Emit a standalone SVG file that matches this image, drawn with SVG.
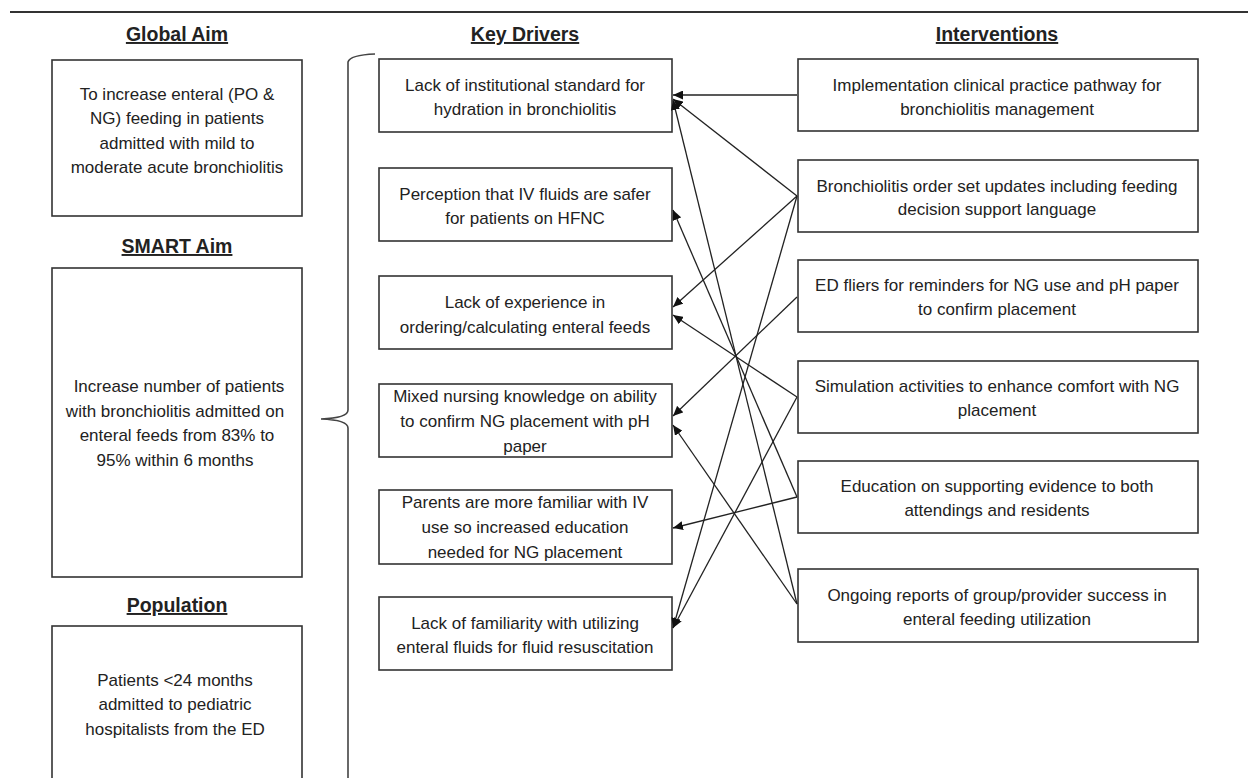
<svg xmlns="http://www.w3.org/2000/svg" width="1248" height="778" viewBox="0 0 1248 778">
<style>
text{font-family:"Liberation Sans",Arial,sans-serif;fill:#222}
.h{font-size:19.5px;font-weight:bold;text-anchor:middle;text-decoration:underline}
.t{font-size:17px;text-anchor:middle}
.box{fill:#fff;stroke:#333;stroke-width:1.6}
.c{stroke:#222;stroke-width:1.3;fill:none;marker-end:url(#ah)}
</style>
<defs>
<marker id="ah" markerUnits="userSpaceOnUse" markerWidth="11" markerHeight="9" refX="10" refY="4.5" orient="auto">
<path d="M0,0 L10,4.5 L0,9 z" fill="#111"/>
</marker>
</defs>
<rect width="1248" height="778" fill="#fff"/>
<line x1="10" y1="12" x2="1248" y2="12" stroke="#333" stroke-width="2"/>
<text class="h" x="177" y="41">Global Aim</text>
<text class="h" x="525" y="41">Key Drivers</text>
<text class="h" x="997" y="41">Interventions</text>
<text class="h" x="177" y="253">SMART Aim</text>
<text class="h" x="177" y="612">Population</text>
<path d="M375,54 Q350,55 348,62 L348,410 Q348,418 321,419 Q348,420 348,428 L348,790" fill="none" stroke="#444" stroke-width="1.6"/>
<g id="global-aim">
<rect class="box" x="52" y="60" width="250" height="156"/>
<text class="t" x="177" y="100">To increase enteral (PO &amp;</text>
<text class="t" x="177" y="124">NG) feeding in patients</text>
<text class="t" x="177" y="149">admitted with mild to</text>
<text class="t" x="177" y="173">moderate acute bronchiolitis</text>
</g>
<g id="smart-aim">
<rect class="box" x="52" y="268" width="250" height="309"/>
<text class="t" x="179" y="392">Increase number of patients</text>
<text class="t" x="175" y="417">with bronchiolitis admitted on</text>
<text class="t" x="177" y="441">enteral feeds from 83% to</text>
<text class="t" x="175" y="466">95% within 6 months</text>
</g>
<g id="population">
<rect class="box" x="52" y="626" width="250" height="200"/>
<text class="t" x="175" y="686">Patients &lt;24 months</text>
<text class="t" x="175" y="710">admitted to pediatric</text>
<text class="t" x="175" y="735">hospitalists from the ED</text>
</g>
<g id="d1">
<rect class="box" x="379" y="59" width="293" height="73"/>
<text class="t" x="525" y="91">Lack of institutional standard for</text>
<text class="t" x="525" y="115">hydration in bronchiolitis</text>
</g>
<g id="d2">
<rect class="box" x="379" y="168" width="293" height="73"/>
<text class="t" x="525" y="200">Perception that IV fluids are safer</text>
<text class="t" x="525" y="224">for patients on HFNC</text>
</g>
<g id="d3">
<rect class="box" x="379" y="276" width="293" height="73"/>
<text class="t" x="525" y="308">Lack of experience in</text>
<text class="t" x="525" y="333">ordering/calculating enteral feeds</text>
</g>
<g id="d4">
<rect class="box" x="379" y="384" width="293" height="73"/>
<text class="t" x="525" y="402">Mixed nursing knowledge on ability</text>
<text class="t" x="525" y="427">to confirm NG placement with pH</text>
<text class="t" x="525" y="452">paper</text>
</g>
<g id="d5">
<rect class="box" x="379" y="490" width="293" height="74"/>
<text class="t" x="525" y="508">Parents are more familiar with IV</text>
<text class="t" x="525" y="533">use so increased education</text>
<text class="t" x="525" y="558">needed for NG placement</text>
</g>
<g id="d6">
<rect class="box" x="379" y="597" width="293" height="73"/>
<text class="t" x="525" y="629">Lack of familiarity with utilizing</text>
<text class="t" x="525" y="653">enteral fluids for fluid resuscitation</text>
</g>
<g id="i1">
<rect class="box" x="798" y="59" width="400" height="72"/>
<text class="t" x="997" y="91">Implementation clinical practice pathway for</text>
<text class="t" x="997" y="115">bronchiolitis management</text>
</g>
<g id="i2">
<rect class="box" x="798" y="160" width="400" height="72"/>
<text class="t" x="997" y="192">Bronchiolitis order set updates including feeding</text>
<text class="t" x="997" y="215">decision support language</text>
</g>
<g id="i3">
<rect class="box" x="798" y="260" width="400" height="72"/>
<text class="t" x="997" y="291">ED fliers for reminders for NG use and pH paper</text>
<text class="t" x="997" y="315">to confirm placement</text>
</g>
<g id="i4">
<rect class="box" x="798" y="361" width="400" height="72"/>
<text class="t" x="997" y="392">Simulation activities to enhance comfort with NG</text>
<text class="t" x="997" y="416">placement</text>
</g>
<g id="i5">
<rect class="box" x="798" y="461" width="400" height="72"/>
<text class="t" x="997" y="492">Education on supporting evidence to both</text>
<text class="t" x="997" y="516">attendings and residents</text>
</g>
<g id="i6">
<rect class="box" x="798" y="569" width="400" height="73"/>
<text class="t" x="997" y="601">Ongoing reports of group/provider success in</text>
<text class="t" x="997" y="625">enteral feeding utilization</text>
</g>
<g id="connectors">
<line class="c" x1="797" y1="95" x2="673" y2="95"/>
<line class="c" x1="797" y1="196" x2="673" y2="99"/>
<line class="c" x1="797" y1="604" x2="673" y2="100"/>
<line class="c" x1="797" y1="497" x2="673" y2="210"/>
<line class="c" x1="797" y1="196" x2="673" y2="307"/>
<line class="c" x1="797" y1="397" x2="673" y2="315"/>
<line class="c" x1="797" y1="297" x2="673" y2="416"/>
<line class="c" x1="797" y1="604" x2="673" y2="425"/>
<line class="c" x1="797" y1="497" x2="673" y2="528"/>
<line class="c" x1="797" y1="196" x2="673" y2="628"/>
<line class="c" x1="797" y1="397" x2="673" y2="628"/>
</g>
</svg>
